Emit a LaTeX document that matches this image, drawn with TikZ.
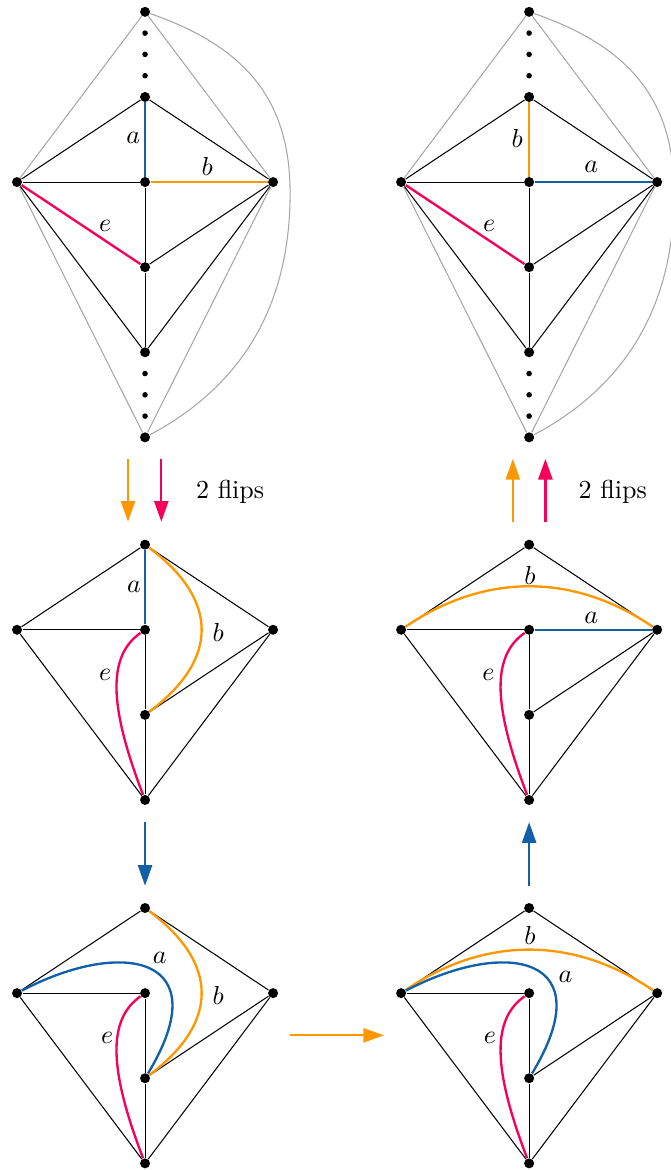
\documentclass[tikz,border=0pt]{standalone}
\usepackage{amsmath,amssymb}
\usepackage{xcolor}
\usepackage{tikz}
\usetikzlibrary{arrows.meta, positioning, calc}
\definecolor{flipblue}{RGB}{18, 96, 168}
\definecolor{fliporange}{RGB}{255, 152, 0}
\definecolor{flipred}{RGB}{245, 0, 90}

\begin{document}
\begin{tikzpicture}[
    vtx/.style={circle, fill=black, inner sep=0pt, minimum size=1.35mm},
    gap/.style={circle, fill=black, inner sep=0pt, minimum size=0.75mm},
    kite/.style={line width=0.4pt},
    faint/.style={line width=0.4pt, color=black!35},
    ea/.style={line width=0.9pt, color=flipblue},
    eb/.style={line width=0.9pt, color=fliporange},
    ee/.style={line width=0.9pt, color=flipred},
    lbl/.style={inner sep=0pt},
    arr/.style={-{Triangle[length=2.8mm, width=1.9mm]}, line width=0.9pt}
]
    \useasboundingbox (-1.96, 2.46) rectangle (7.095, -13.35);

    % Panel 1: top left
    \begin{scope}
        \node[vtx] (t_p1) at (0, 2.3) {};
        \node[vtx] (u_p1) at (0, 1.15) {};
        \node[vtx] (l_p1) at (-1.73, 0) {};
        \node[vtx] (c_p1) at (0, 0) {};
        \node[vtx] (r_p1) at (1.73, 0) {};
        \node[vtx] (d_p1) at (0, -1.15) {};
        \node[vtx] (b_p1) at (0, -2.3) {};
        \node[vtx] (bt_p1) at (0, -3.45) {};
        \node[gap] (g1_p1) at (0, 1.4375) {};
        \node[gap] (g2_p1) at (0, 1.725) {};
        \node[gap] (g3_p1) at (0, 2.0125) {};
        \node[gap] (g4_p1) at (0, -2.5875) {};
        \node[gap] (g5_p1) at (0, -2.875) {};
        \node[gap] (g6_p1) at (0, -3.1625) {};
        \coordinate (m_p1) at (1.96, -0.15);
        \draw[faint] (l_p1) -- (t_p1) -- (r_p1) -- (bt_p1) -- (l_p1);
        \draw[faint] (t_p1) .. controls (1.42, 1.81) and (1.96, 1.05) .. (m_p1)
            .. controls (1.96, -1.55) and (1.41, -2.7) .. (bt_p1);
        \draw[kite] (l_p1) -- (u_p1) -- (r_p1) -- (b_p1) -- (l_p1);
        \draw[kite] (l_p1) -- (c_p1) -- (d_p1) -- (b_p1);
        \draw[kite] (d_p1) -- (r_p1);
        \draw[ea] (u_p1) -- (c_p1);
        \draw[eb] (c_p1) -- (r_p1);
        \draw[ee] (l_p1) -- (d_p1);
        \node[lbl] (la_p1) at (-0.16, 0.59) {$a$};
        \node[lbl] (lb_p1) at (0.84, 0.21) {$b$};
        \node[lbl] (le_p1) at (-0.54, -0.59) {$e$};
    \end{scope}

    % Panel 2: top right
    \begin{scope}[shift={(5.19, 0)}]
        \node[vtx] (t_p2) at (0, 2.3) {};
        \node[vtx] (u_p2) at (0, 1.15) {};
        \node[vtx] (l_p2) at (-1.73, 0) {};
        \node[vtx] (c_p2) at (0, 0) {};
        \node[vtx] (r_p2) at (1.73, 0) {};
        \node[vtx] (d_p2) at (0, -1.15) {};
        \node[vtx] (b_p2) at (0, -2.3) {};
        \node[vtx] (bt_p2) at (0, -3.45) {};
        \node[gap] (g1_p2) at (0, 1.4375) {};
        \node[gap] (g2_p2) at (0, 1.725) {};
        \node[gap] (g3_p2) at (0, 2.0125) {};
        \node[gap] (g4_p2) at (0, -2.5875) {};
        \node[gap] (g5_p2) at (0, -2.875) {};
        \node[gap] (g6_p2) at (0, -3.1625) {};
        \coordinate (m_p2) at (1.96, -0.15);
        \draw[faint] (l_p2) -- (t_p2) -- (r_p2) -- (bt_p2) -- (l_p2);
        \draw[faint] (t_p2) .. controls (1.42, 1.81) and (1.96, 1.05) .. (m_p2)
            .. controls (1.96, -1.55) and (1.41, -2.7) .. (bt_p2);
        \draw[kite] (l_p2) -- (u_p2) -- (r_p2) -- (b_p2) -- (l_p2);
        \draw[kite] (l_p2) -- (c_p2) -- (d_p2) -- (b_p2);
        \draw[kite] (d_p2) -- (r_p2);
        \draw[eb] (u_p2) -- (c_p2);
        \draw[ea] (c_p2) -- (r_p2);
        \draw[ee] (l_p2) -- (d_p2);
        \node[lbl] (lb_p2) at (-0.16, 0.59) {$b$};
        \node[lbl] (la_p2) at (0.84, 0.20) {$a$};
        \node[lbl] (le_p2) at (-0.54, -0.59) {$e$};
    \end{scope}

    % Panel 3: middle left
    \begin{scope}[shift={(0, -6.05)}]
        \node[vtx] (u_p3) at (0, 1.15) {};
        \node[vtx] (l_p3) at (-1.73, 0) {};
        \node[vtx] (c_p3) at (0, 0) {};
        \node[vtx] (r_p3) at (1.73, 0) {};
        \node[vtx] (d_p3) at (0, -1.15) {};
        \node[vtx] (b_p3) at (0, -2.3) {};
        \draw[kite] (l_p3) -- (u_p3) -- (r_p3) -- (b_p3) -- (l_p3);
        \draw[kite] (l_p3) -- (c_p3) -- (d_p3) -- (b_p3);
        \draw[kite] (d_p3) -- (r_p3);
        \draw[ea] (u_p3) -- (c_p3);
        \draw[eb] (u_p3) .. controls (1.0, 0.4) and (1.0, -0.4) .. (d_p3);
        \draw[ee] (c_p3) .. controls (-0.5, -0.35) and (-0.5, -1.0) .. (b_p3);
        \node[lbl] (la_p3) at (-0.15, 0.58) {$a$};
        \node[lbl] (lb_p3) at (0.99, -0.04) {$b$};
        \node[lbl] (le_p3) at (-0.54, -0.61) {$e$};
    \end{scope}

    % Panel 4: middle right
    \begin{scope}[shift={(5.19, -6.05)}]
        \node[vtx] (u_p4) at (0, 1.15) {};
        \node[vtx] (l_p4) at (-1.73, 0) {};
        \node[vtx] (c_p4) at (0, 0) {};
        \node[vtx] (r_p4) at (1.73, 0) {};
        \node[vtx] (d_p4) at (0, -1.15) {};
        \node[vtx] (b_p4) at (0, -2.3) {};
        \draw[kite] (l_p4) -- (u_p4) -- (r_p4) -- (b_p4) -- (l_p4);
        \draw[kite] (l_p4) -- (c_p4) -- (d_p4) -- (b_p4);
        \draw[kite] (d_p4) -- (r_p4);
        \draw[ea] (c_p4) -- (r_p4);
        \draw[eb] (l_p4) .. controls (-0.6, 0.77) and (0.6, 0.77) .. (r_p4);
        \draw[ee] (c_p4) .. controls (-0.5, -0.35) and (-0.5, -1.0) .. (b_p4);
        \node[lbl] (lb_p4) at (0.01, 0.74) {$b$};
        \node[lbl] (la_p4) at (0.84, 0.16) {$a$};
        \node[lbl] (le_p4) at (-0.55, -0.61) {$e$};
    \end{scope}

    % Panel 5: bottom left
    \begin{scope}[shift={(0, -10.96)}]
        \node[vtx] (u_p5) at (0, 1.15) {};
        \node[vtx] (l_p5) at (-1.73, 0) {};
        \node[vtx] (c_p5) at (0, 0) {};
        \node[vtx] (r_p5) at (1.73, 0) {};
        \node[vtx] (d_p5) at (0, -1.15) {};
        \node[vtx] (b_p5) at (0, -2.3) {};
        \draw[kite] (l_p5) -- (u_p5) -- (r_p5) -- (b_p5) -- (l_p5);
        \draw[kite] (l_p5) -- (c_p5) -- (d_p5) -- (b_p5);
        \draw[kite] (d_p5) -- (r_p5);
        \draw[eb] (u_p5) .. controls (1.0, 0.4) and (1.0, -0.4) .. (d_p5);
        \draw[ea] (l_p5) .. controls (-0.3, 0.75) and (1.0, 0.5) .. (d_p5);
        \draw[ee] (c_p5) .. controls (-0.5, -0.35) and (-0.5, -1.0) .. (b_p5);
        \node[lbl] (la_p5) at (0.2, 0.47) {$a$};
        \node[lbl] (lb_p5) at (0.99, -0.03) {$b$};
        \node[lbl] (le_p5) at (-0.51, -0.61) {$e$};
    \end{scope}

    % Panel 6: bottom right
    \begin{scope}[shift={(5.19, -10.96)}]
        \node[vtx] (u_p6) at (0, 1.15) {};
        \node[vtx] (l_p6) at (-1.73, 0) {};
        \node[vtx] (c_p6) at (0, 0) {};
        \node[vtx] (r_p6) at (1.73, 0) {};
        \node[vtx] (d_p6) at (0, -1.15) {};
        \node[vtx] (b_p6) at (0, -2.3) {};
        \draw[kite] (l_p6) -- (u_p6) -- (r_p6) -- (b_p6) -- (l_p6);
        \draw[kite] (l_p6) -- (c_p6) -- (d_p6) -- (b_p6);
        \draw[kite] (d_p6) -- (r_p6);
        \draw[eb] (l_p6) .. controls (-0.6, 0.77) and (0.6, 0.77) .. (r_p6);
        \draw[ea] (l_p6) .. controls (-0.3, 0.75) and (1.0, 0.5) .. (d_p6);
        \draw[ee] (c_p6) .. controls (-0.5, -0.35) and (-0.5, -1.0) .. (b_p6);
        \node[lbl] (lb_p6) at (0.01, 0.78) {$b$};
        \node[lbl] (la_p6) at (0.49, 0.22) {$a$};
        \node[lbl] (le_p6) at (-0.53, -0.61) {$e$};
    \end{scope}

    % Flip arrows
    \coordinate (o1s) at (-0.23, -3.74);
    \coordinate (o1e) at (-0.23, -4.59);
    \coordinate (r1s) at (0.22, -3.74);
    \coordinate (r1e) at (0.22, -4.59);
    \draw[arr, fliporange] (o1s) -- (o1e);
    \draw[arr, flipred] (r1s) -- (r1e);
    \node (fl1) at (1.15, -4.18) {2 flips};

    \coordinate (o2s) at (4.97, -4.59);
    \coordinate (o2e) at (4.97, -3.74);
    \coordinate (r2s) at (5.41, -4.59);
    \coordinate (r2e) at (5.41, -3.74);
    \draw[arr, fliporange] (o2s) -- (o2e);
    \draw[arr, flipred] (r2s) -- (r2e);
    \node (fl2) at (6.32, -4.18) {2 flips};

    \coordinate (b1s) at (0, -8.65);
    \coordinate (b1e) at (0, -9.51);
    \draw[arr, flipblue] (b1s) -- (b1e);
    \coordinate (b2s) at (5.19, -9.51);
    \coordinate (b2e) at (5.19, -8.65);
    \draw[arr, flipblue] (b2s) -- (b2e);

    \coordinate (o3s) at (1.96, -11.53);
    \coordinate (o3e) at (3.23, -11.53);
    \draw[arr, fliporange] (o3s) -- (o3e);
\end{tikzpicture}
\end{document}
